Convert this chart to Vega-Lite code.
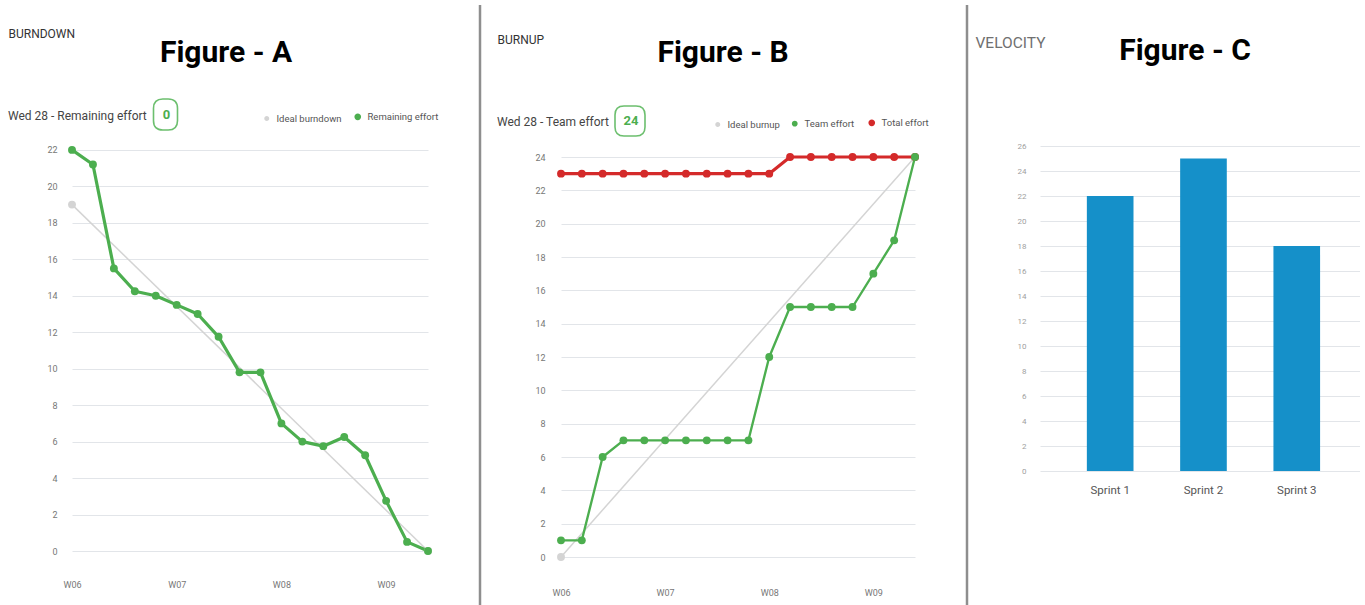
{
  "$schema": "https://vega.github.io/schema/vega-lite/v6.json",
  "background": "white",
  "padding": {"left": 8, "top": 3, "right": 0, "bottom": 0},
  "bounds": "flush",
  "spacing": 52,
  "resolve": {
    "scale": {"color": "independent", "shape": "independent", "strokeWidth": "independent"},
    "legend": {"color": "independent", "shape": "independent"}
  },
  "hconcat": [
    {
      "width": 356,
      "height": 546,
      "title": {"text": "Figure - A", "anchor": "middle", "frame": "group", "offset": 0, "dy": 87, "dx": -24, "baseline": "alphabetic", "fontSize": 30, "fontWeight": "bold", "color": "#000000"},
      "layer": [
        {
          "data": {"values": [
            {"day": 0, "effort": 19, "series": "Ideal burndown"},
            {"day": 17, "effort": 0, "series": "Ideal burndown"},
            {"day": 0, "effort": 22, "series": "Remaining effort"},
            {"day": 1, "effort": 21.2, "series": "Remaining effort"},
            {"day": 2, "effort": 15.5, "series": "Remaining effort"},
            {"day": 3, "effort": 14.25, "series": "Remaining effort"},
            {"day": 4, "effort": 14.0, "series": "Remaining effort"},
            {"day": 5, "effort": 13.5, "series": "Remaining effort"},
            {"day": 6, "effort": 13.0, "series": "Remaining effort"},
            {"day": 7, "effort": 11.75, "series": "Remaining effort"},
            {"day": 8, "effort": 9.8, "series": "Remaining effort"},
            {"day": 9, "effort": 9.8, "series": "Remaining effort"},
            {"day": 10, "effort": 7.0, "series": "Remaining effort"},
            {"day": 11, "effort": 6.0, "series": "Remaining effort"},
            {"day": 12, "effort": 5.75, "series": "Remaining effort"},
            {"day": 13, "effort": 6.25, "series": "Remaining effort"},
            {"day": 14, "effort": 5.25, "series": "Remaining effort"},
            {"day": 15, "effort": 2.75, "series": "Remaining effort"},
            {"day": 16, "effort": 0.5, "series": "Remaining effort"},
            {"day": 17, "effort": 0, "series": "Remaining effort"}
          ]},
          "mark": {"type": "line", "point": {"filled": true, "size": 62}, "strokeJoin": "round"},
          "encoding": {
            "x": {"field": "day", "type": "quantitative", "scale": {"domain": [0, 17], "nice": false, "zero": false},
                  "axis": {"values": [0, 5, 10, 15], "labelExpr": "'W0' + (6 + datum.value / 5)", "title": null, "grid": false, "labelPadding": 29, "labelFlush": false}},
            "y": {"field": "effort", "type": "quantitative", "scale": {"domain": [0, 29.95], "nice": false},
                  "axis": {"values": [0, 2, 4, 6, 8, 10, 12, 14, 16, 18, 20, 22], "labelPadding": 15, "title": "BURNDOWN", "titleAngle": 0, "titleAlign": "left", "titleBaseline": "alphabetic", "titleX": -64, "titleY": 32, "titleFontSize": 12, "titleFontWeight": "normal", "titleColor": "#333333"}},
            "color": {"field": "series", "type": "nominal",
                      "scale": {"domain": ["Ideal burndown", "Remaining effort"], "range": ["#d4d4d4", "#4cae4f"]},
                      "legend": {"orient": "none", "legendX": 190, "legendY": 107, "direction": "horizontal", "title": null, "symbolType": "circle", "symbolSize": 12, "symbolStrokeWidth": 5.5, "symbolOpacity": 1, "labelFontSize": 9.5, "labelColor": "#555555", "columnPadding": 7, "labelOffset": 5}},
            "strokeWidth": {"field": "series", "type": "nominal", "scale": {"domain": ["Ideal burndown", "Remaining effort"], "range": [1.5, 3.2]}, "legend": null}
          }
        },
        {
          "data": {"values": [{"day": 17, "effort": 0, "badge": "0"}]},
          "mark": {"type": "point", "opacity": 0, "filled": false, "color": "#6cbf6e"},
          "encoding": {
            "x": {"field": "day", "type": "quantitative"},
            "y": {"field": "effort", "type": "quantitative"},
            "shape": {"field": "badge", "type": "nominal",
                      "scale": {"range": ["M-0.774,-0.4 Q-0.774,-1 -0.174,-1 L0.174,-1 Q0.774,-1 0.774,-0.4 L0.774,0.4 Q0.774,1 0.174,1 L-0.174,1 Q-0.774,1 -0.774,0.4 Z"]},
                      "legend": {"orient": "none", "legendX": -64, "legendY": 93, "title": "Wed 28 - Remaining effort", "titleLimit": 0, "titleOrient": "left", "titleFontSize": 12, "titleFontWeight": "normal", "titleColor": "#444444", "titlePadding": 2, "titleBaseline": "middle", "titleAnchor": "middle", "symbolSize": 961, "symbolStrokeColor": "#6cbf6e", "symbolStrokeWidth": 1.6, "symbolFillColor": "white", "symbolOpacity": 1, "labelAlign": "center", "labelOffset": -15.5, "labelColor": "#4cae4f", "labelFontSize": 13, "labelFontWeight": "bold"}}
          }
        }
      ]
    },
    {
      "width": 29,
      "height": 600,
      "data": {"values": [{}]},
      "mark": {"type": "rule", "color": "#8e8e8e", "strokeWidth": 2.5},
      "encoding": {"x": {"datum": 0, "type": "quantitative", "scale": {"domain": [0, 1]}, "axis": null}}
    },
    {
      "width": 354,
      "height": 552,
      "title": {"text": "Figure - B", "anchor": "middle", "frame": "group", "offset": 0, "dy": 87, "dx": -15, "baseline": "alphabetic", "fontSize": 30, "fontWeight": "bold", "color": "#000000"},
      "layer": [
        {
          "data": {"values": [
            {"day": 0, "effort": 0, "series": "Ideal burnup"},
            {"day": 17, "effort": 24, "series": "Ideal burnup"},
            {"day": 0, "effort": 23, "series": "Total effort"},
            {"day": 1, "effort": 23, "series": "Total effort"},
            {"day": 2, "effort": 23, "series": "Total effort"},
            {"day": 3, "effort": 23, "series": "Total effort"},
            {"day": 4, "effort": 23, "series": "Total effort"},
            {"day": 5, "effort": 23, "series": "Total effort"},
            {"day": 6, "effort": 23, "series": "Total effort"},
            {"day": 7, "effort": 23, "series": "Total effort"},
            {"day": 8, "effort": 23, "series": "Total effort"},
            {"day": 9, "effort": 23, "series": "Total effort"},
            {"day": 10, "effort": 23, "series": "Total effort"},
            {"day": 11, "effort": 24, "series": "Total effort"},
            {"day": 12, "effort": 24, "series": "Total effort"},
            {"day": 13, "effort": 24, "series": "Total effort"},
            {"day": 14, "effort": 24, "series": "Total effort"},
            {"day": 15, "effort": 24, "series": "Total effort"},
            {"day": 16, "effort": 24, "series": "Total effort"},
            {"day": 17, "effort": 24, "series": "Total effort"},
            {"day": 0, "effort": 1, "series": "Team effort"},
            {"day": 1, "effort": 1, "series": "Team effort"},
            {"day": 2, "effort": 6, "series": "Team effort"},
            {"day": 3, "effort": 7, "series": "Team effort"},
            {"day": 4, "effort": 7, "series": "Team effort"},
            {"day": 5, "effort": 7, "series": "Team effort"},
            {"day": 6, "effort": 7, "series": "Team effort"},
            {"day": 7, "effort": 7, "series": "Team effort"},
            {"day": 8, "effort": 7, "series": "Team effort"},
            {"day": 9, "effort": 7, "series": "Team effort"},
            {"day": 10, "effort": 12, "series": "Team effort"},
            {"day": 11, "effort": 15, "series": "Team effort"},
            {"day": 12, "effort": 15, "series": "Team effort"},
            {"day": 13, "effort": 15, "series": "Team effort"},
            {"day": 14, "effort": 15, "series": "Team effort"},
            {"day": 15, "effort": 17, "series": "Team effort"},
            {"day": 16, "effort": 19, "series": "Team effort"},
            {"day": 17, "effort": 24, "series": "Team effort"}
          ]},
          "mark": {"type": "line", "point": {"filled": true, "size": 62}, "strokeJoin": "round"},
          "encoding": {
            "x": {"field": "day", "type": "quantitative", "scale": {"domain": [0, 17], "nice": false, "zero": false},
                  "axis": {"values": [0, 5, 10, 15], "labelExpr": "'W0' + (6 + datum.value / 5)", "title": null, "grid": false, "labelPadding": 31, "labelFlush": false}},
            "y": {"field": "effort", "type": "quantitative", "scale": {"domain": [0, 33.12], "nice": false},
                  "axis": {"values": [0, 2, 4, 6, 8, 10, 12, 14, 16, 18, 20, 22, 24], "labelPadding": 16, "title": "BURNUP", "titleAngle": 0, "titleAlign": "left", "titleBaseline": "alphabetic", "titleX": -64, "titleY": 38, "titleFontSize": 12, "titleFontWeight": "normal", "titleColor": "#333333"}},
            "color": {"field": "series", "type": "nominal",
                      "scale": {"domain": ["Ideal burnup", "Team effort", "Total effort"], "range": ["#d4d4d4", "#4cae4f", "#d42a2a"]},
                      "legend": {"orient": "none", "legendX": 152, "legendY": 113, "direction": "horizontal", "title": null, "symbolType": "circle", "symbolSize": 12, "symbolStrokeWidth": 5.5, "symbolOpacity": 1, "labelFontSize": 9.5, "labelColor": "#555555", "columnPadding": 8, "labelOffset": 5}},
            "strokeWidth": {"field": "series", "type": "nominal", "scale": {"domain": ["Ideal burnup", "Team effort", "Total effort"], "range": [1.5, 3.2, 3.2]}, "legend": null}
          }
        },
        {
          "data": {"values": [{"day": 17, "effort": 24, "badge": "24"}]},
          "mark": {"type": "point", "opacity": 0, "filled": false, "color": "#6cbf6e"},
          "encoding": {
            "x": {"field": "day", "type": "quantitative"},
            "y": {"field": "effort", "type": "quantitative"},
            "shape": {"field": "badge", "type": "nominal",
                      "scale": {"range": ["M-1,-0.4 Q-1,-1 -0.4,-1 L0.4,-1 Q1,-1 1,-0.4 L1,0.4 Q1,1 0.4,1 L-0.4,1 Q-1,1 -1,0.4 Z"]},
                      "legend": {"orient": "none", "legendX": -64, "legendY": 100, "title": "Wed 28 - Team effort", "titleLimit": 0, "titleOrient": "left", "titleFontSize": 12, "titleFontWeight": "normal", "titleColor": "#444444", "titlePadding": 4, "titleBaseline": "middle", "titleAnchor": "middle", "symbolSize": 900, "symbolStrokeColor": "#6cbf6e", "symbolStrokeWidth": 1.6, "symbolFillColor": "white", "symbolOpacity": 1, "labelAlign": "center", "labelOffset": -15, "labelColor": "#4cae4f", "labelFontSize": 13, "labelFontWeight": "bold"}}
          }
        }
      ]
    },
    {
      "width": 21,
      "height": 600,
      "data": {"values": [{}]},
      "mark": {"type": "rule", "color": "#8e8e8e", "strokeWidth": 2.5},
      "encoding": {"x": {"datum": 0, "type": "quantitative", "scale": {"domain": [0, 1]}, "axis": null}}
    },
    {
      "width": 320,
      "height": 466,
      "title": {"text": "Figure - C", "anchor": "middle", "frame": "group", "offset": 0, "dy": 85, "dx": -15, "baseline": "alphabetic", "fontSize": 30, "fontWeight": "bold", "color": "#000000"},
      "data": {"values": [
        {"sprint": "Sprint 1", "velocity": 22},
        {"sprint": "Sprint 2", "velocity": 25},
        {"sprint": "Sprint 3", "velocity": 18}
      ]},
      "mark": {"type": "bar", "color": "#1590c9"},
      "encoding": {
        "x": {"field": "sprint", "type": "nominal", "sort": null,
              "scale": {"paddingInner": 0.5, "paddingOuter": 0.465, "align": 0.54},
              "axis": {"title": null, "labelAngle": 0, "grid": false, "labelPadding": 13, "labelFontSize": 11.5, "labelColor": "#555555"}},
        "y": {"field": "velocity", "type": "quantitative", "scale": {"domain": [0, 37.28], "nice": false},
              "axis": {"values": [0, 2, 4, 6, 8, 10, 12, 14, 16, 18, 20, 22, 24, 26], "labelPadding": 14, "labelFontSize": 8, "labelColor": "#a0a0a0", "title": "VELOCITY", "titleAngle": 0, "titleAlign": "left", "titleBaseline": "alphabetic", "titleX": -65, "titleY": 42, "titleFontSize": 15.5, "titleFontWeight": "normal", "titleColor": "#707070"}}
      }
    }
  ],
  "config": {
    "view": {"stroke": null},
    "font": "Roboto",
    "axis": {"domain": false, "ticks": false, "gridColor": "#e2e5e9", "gridWidth": 1, "labelColor": "#777777", "labelFontSize": 9, "labelFlush": false},
    "legend": {"padding": 0, "offset": 0},
    "title": {"offset": 0}
  }
}
